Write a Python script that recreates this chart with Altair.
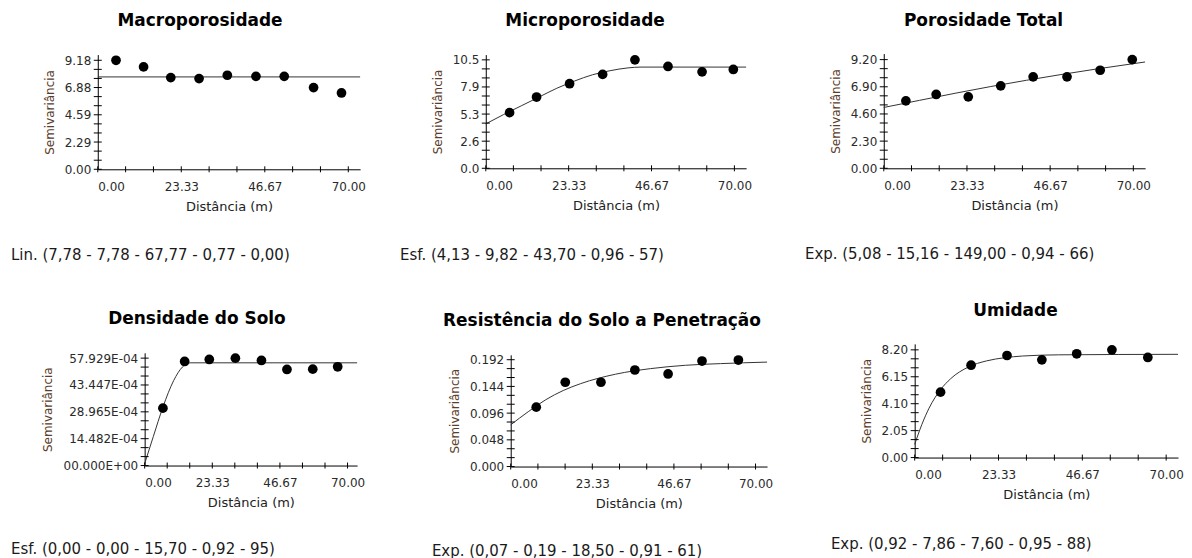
import altair as alt
import pandas as pd

# ---------------- data ----------------
titles = ["Macroporosidade", "Microporosidade", "Porosidade Total",
          "Densidade do Solo", "Resistência do Solo a Penetração", "Umidade"]
footers = ["Lin. (7,78 - 7,78 - 67,77 - 0,77 - 0,00)",
           "Esf. (4,13 - 9,82 - 43,70 - 0,96 - 57)",
           "Exp. (5,08 - 15,16 - 149,00 - 0,94 - 66)",
           "Esf. (0,00 - 0,00 - 15,70 - 0,92 - 95)",
           "Exp. (0,07 - 0,19 - 18,50 - 0,91 - 61)",
           "Exp. (0,92 - 7,86 - 7,60 - 0,95 - 88)"]

# experimental semivariogram points
macro_lag = [5.1, 12.8, 20.4, 28.3, 36.2, 44.2, 52.1, 60.3, 68.1]
macro_gamma = [9.18, 8.62, 7.72, 7.64, 7.92, 7.83, 7.83, 6.88, 6.43]
micro_lag = [6.7, 14.3, 23.6, 32.9, 42.0, 51.3, 60.9, 69.7]
micro_gamma = [5.39, 6.90, 8.19, 9.09, 10.50, 9.86, 9.34, 9.57]
pt_lag = [6.2, 14.7, 23.7, 32.8, 41.9, 51.4, 60.7, 69.7]
pt_gamma = [5.71, 6.25, 6.05, 6.98, 7.74, 7.74, 8.30, 9.20]
ds_lag = [6.3, 13.8, 22.3, 31.3, 40.3, 49.1, 58.0, 66.6]
ds_gamma = [0.003094, 0.005613, 0.005721, 0.005792, 0.005666, 0.005181, 0.005199, 0.005325]
rp_lag = [7.3, 15.6, 25.8, 35.5, 45.0, 54.7, 65.1]
rp_gamma = [0.1067, 0.1515, 0.1515, 0.1735, 0.1664, 0.1896, 0.1914]
um_lag = [7.2, 15.7, 25.7, 35.4, 45.1, 54.9, 64.9]
um_gamma = [4.98, 7.03, 7.77, 7.44, 7.90, 8.20, 7.62]

# fitted model curves
macro_fit_x = [0, 73.3]
macro_fit_y = [7.78, 7.78]
micro_fit_x = [0, 5, 10, 15, 20, 25, 30, 35, 40, 43.7, 73.3]
micro_fit_y = [4.3, 5.2, 6.05, 6.9, 7.75, 8.45, 9.05, 9.45, 9.72, 9.8, 9.8]
pt_fit_x = [0, 10, 20, 30, 40, 50, 60, 73.3]
pt_fit_y = [5.15, 5.75, 6.35, 6.92, 7.45, 7.95, 8.42, 9.0]
ds_fit_x = [0, 3, 6.3, 10, 13, 15.7, 73.3]
ds_fit_y = [0.0001, 0.00157, 0.00315, 0.00458, 0.00531, 0.00554, 0.00554]
rp_fit_x = [0, 5, 10, 15, 20, 30, 40, 50, 60, 73.3]
rp_fit_y = [0.075, 0.0985, 0.120, 0.1366, 0.149, 0.166, 0.176, 0.182, 0.185, 0.1877]
um_fit_x = [0, 2, 4, 7.2, 10, 15, 20, 25, 30, 40, 73.3]
um_fit_y = [1.0, 2.52, 3.76, 5.17, 6.0, 6.9, 7.36, 7.6, 7.73, 7.82, 7.86]

# axis tick labels
x_tick_values = [0, 23.333333, 46.666667, 70]
x_tick_labels = ["0.00", "23.33", "46.67", "70.00"]
y_tick_values = [
    [0, 2.295, 4.59, 6.885, 9.18],
    [0, 2.625, 5.25, 7.875, 10.5],
    [0, 2.3, 4.6, 6.9, 9.2],
    [0, 0.00144823, 0.00289645, 0.00434468, 0.0057929],
    [0, 0.048, 0.096, 0.144, 0.192],
    [0, 2.05, 4.1, 6.15, 8.2],
]
y_tick_labels = [
    ["0.00", "2.29", "4.59", "6.88", "9.18"],
    ["0.0", "2.6", "5.3", "7.9", "10.5"],
    ["0.00", "2.30", "4.60", "6.90", "9.20"],
    ["00.000E+00", "14.482E-04", "28.965E-04", "43.447E-04", "57.929E-04"],
    ["0.000", "0.048", "0.096", "0.144", "0.192"],
    ["0.00", "2.05", "4.10", "6.15", "8.20"],
]
y_max = [9.66, 11.01, 9.71, 0.006079, 0.2008, 8.657]
x_max = 73.3

points = [(macro_lag, macro_gamma), (micro_lag, micro_gamma), (pt_lag, pt_gamma),
          (ds_lag, ds_gamma), (rp_lag, rp_gamma), (um_lag, um_gamma)]
fits = [(macro_fit_x, macro_fit_y), (micro_fit_x, micro_fit_y), (pt_fit_x, pt_fit_y),
        (ds_fit_x, ds_fit_y), (rp_fit_x, rp_fit_y), (um_fit_x, um_fit_y)]

# ---------------- layout / style ----------------
FONT = "DejaVu Sans"
widths = [263, 261, 262, 213, 257, 264]
heights = [115, 114, 115, 113, 112, 114]
title_dx = [-29, -31, -31, -54, -37, -31]
foot_dx = [-87, -86, -79, -134, -79, -84]
foot_dy = [201, 201, 201, 197, 197, 201]
top_gap = [1, 1, 1, 8, 9, 0]


def with_minors(majors):
    out = []
    for a, b in zip(majors[:-1], majors[1:]):
        out += [a, a + (b - a) / 3, a + 2 * (b - a) / 3]
    out.append(majors[-1])
    return out


def label_expr(vals, labels):
    return ("[" + ",".join(repr(l) for l in labels) + "][indexof(["
            + ",".join(repr(v) for v in vals) + "], datum.value)]")


def spacer():
    return alt.Chart(pd.DataFrame({"a": [0]})).mark_point(opacity=0, size=1).encode(
        x=alt.value(0), y=alt.value(0)).properties(width=1, height=1)


def panel(i):
    xs = alt.Scale(domain=[0, x_max], nice=False, zero=False)
    ys = alt.Scale(domain=[0, y_max[i]], nice=False, zero=False)
    xaxis = alt.Axis(values=x_tick_values, labelExpr=label_expr(x_tick_values, x_tick_labels),
                     title="Distância (m)")
    yaxis = alt.Axis(values=y_tick_values[i],
                     labelExpr=label_expr(y_tick_values[i], y_tick_labels[i]),
                     title="Semivariância")
    X = alt.X("x:Q", scale=xs, axis=xaxis)
    Y = alt.Y("y:Q", scale=ys, axis=yaxis)

    px, py = points[i]
    fx, fy = fits[i]
    df_pts = pd.DataFrame({"x": px, "y": py})
    df_fit = pd.DataFrame({"x": fx, "y": fy})
    yt = with_minors(y_tick_values[i])
    xt = with_minors(x_tick_values)
    df_yt = pd.DataFrame({"x": [0] * len(yt), "y": yt})
    df_xt = pd.DataFrame({"x": xt, "y": [0] * len(xt)})
    df_ft = pd.DataFrame({"t": [footers[i]]})

    # crossing tick marks drawn through the scales
    ytick = alt.Chart(df_yt).mark_rule(color="black", strokeWidth=1,
                                       xOffset=-4, x2Offset=4).encode(
        x=X, x2=alt.X2("x"), y=Y)
    xtick = alt.Chart(df_xt).mark_rule(color="black", strokeWidth=1,
                                       yOffset=-3, y2Offset=3).encode(
        x=X, y=Y, y2=alt.Y2("y"))
    line = alt.Chart(df_fit).mark_line(color="#333333", strokeWidth=1,
                                       interpolate="monotone").encode(x=X, y=Y)
    dots = alt.Chart(df_pts).mark_circle(size=95, color="black", opacity=1).encode(x=X, y=Y)
    foot = alt.Chart(df_ft).mark_text(align="left", baseline="middle", fontSize=15,
                                      font=FONT, color="#1a1a1a").encode(
        x=alt.value(foot_dx[i]), y=alt.value(foot_dy[i]), text="t:N")

    title = alt.TitleParams(titles[i], fontSize=17, font=FONT, fontWeight="bold",
                            color="black", anchor="middle", frame="group",
                            dx=title_dx[i], offset=24)
    unit = alt.layer(line, dots, ytick, xtick, foot).properties(
        width=widths[i], height=heights[i], title=title)
    # a 1px spacer on top makes the vertical placement bounds-based
    return alt.vconcat(spacer(), unit, spacing=top_gap[i])


p = [panel(i) for i in range(6)]
row1 = alt.hconcat(alt.hconcat(alt.hconcat(spacer(), p[0], spacing=1), p[1], spacing=34),
                   p[2], spacing=53)
row2 = alt.hconcat(alt.hconcat(alt.hconcat(spacer(), p[3], spacing=1), p[4], spacing=67),
                   p[5], spacing=58)

chart = alt.vconcat(row1, row2, spacing=37).properties(
    padding={"left": 0, "top": 0, "right": 0, "bottom": 0}
).configure_view(stroke=None).configure_axis(
    grid=False, ticks=False, domainColor="black", domainWidth=1,
    labelFont=FONT, labelFontSize=12, labelColor="#2a2a2a",
    titleFont=FONT, titleFontWeight="normal",
).configure_axisX(
    labelPadding=12, titleFontSize=13, titleColor="#222222", titlePadding=8,
    labelAngle=0,
).configure_axisY(
    labelPadding=7, titleFontSize=12, titleColor="#5b3d2b", titlePadding=8,
)

chart.save("out.html", embed_options={"renderer": "svg", "actions": False})
